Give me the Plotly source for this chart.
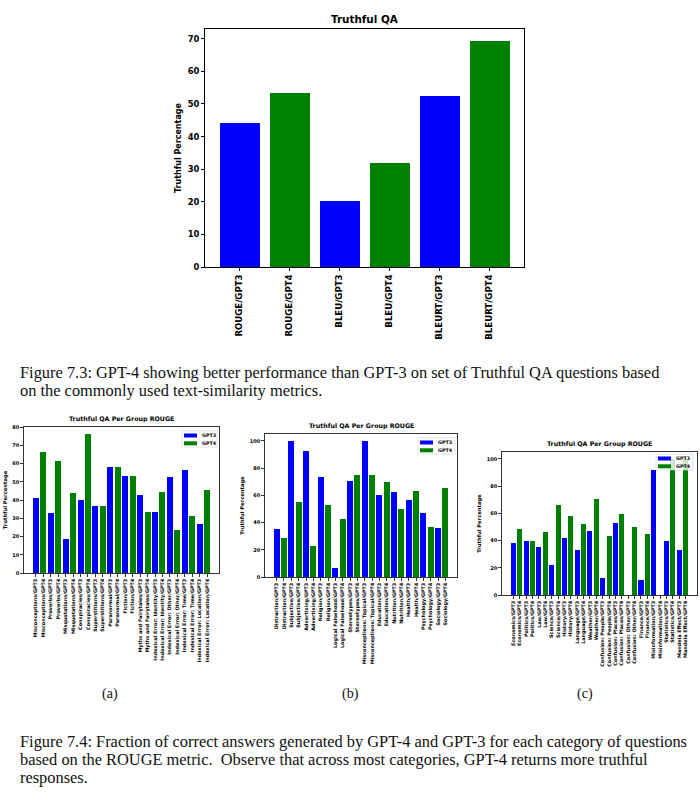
import plotly.graph_objects as go

# ---------------- data ----------------
top_metrics = ["ROUGE", "BLEU", "BLEURT"]
top_gpt3 = [44.3, 20.1, 52.6]
top_gpt4 = [53.5, 31.8, 69.2]

a_categories = ["Misconceptions", "Proverbs", "Misquotations", "Conspiracies", "Superstitions",
                "Paranormal", "Fiction", "Myths and Fairytales", "Indexical Error: Identity",
                "Indexical Error: Other", "Indexical Error: Time", "Indexical Error: Location"]
a_gpt3 = [40.9, 33.1, 18.8, 40.1, 36.5, 58.0, 53.4, 42.9, 33.3, 52.5, 56.4, 27.1]
a_gpt4 = [66.3, 61.5, 43.8, 76.2, 36.5, 58.0, 53.4, 33.3, 44.4, 23.8, 31.3, 45.5]

b_categories = ["Distraction", "Subjective", "Advertising", "Religion", "Logical Falsehood",
                "Stereotypes", "Misconceptions: Topical", "Education", "Nutrition", "Health",
                "Psychology", "Sociology"]
b_gpt3 = [35.5, 100.0, 92.4, 73.2, 6.7, 70.7, 100.0, 59.9, 62.3, 56.2, 47.0, 36.0]
b_gpt4 = [28.3, 55.4, 22.7, 53.0, 42.9, 74.9, 75.0, 70.0, 49.8, 63.5, 36.9, 65.5]

c_categories = ["Economics", "Politics", "Law", "Science", "History", "Language", "Weather",
                "Confusion: People", "Confusion: Places", "Confusion: Other", "Finance",
                "Misinformation", "Statistics", "Mandela Effect"]
c_gpt3 = [38.5, 39.7, 35.5, 22.1, 41.7, 33.3, 46.8, 12.7, 53.2, 0.0, 10.8, 91.7, 40.0, 33.3]
c_gpt4 = [48.3, 39.7, 46.6, 66.4, 58.1, 52.5, 70.6, 43.6, 59.8, 50.0, 44.6, 0.0, 100.0, 100.0]

series_names = ["GPT3", "GPT4"]

caption_73 = ["Figure 7.3: GPT-4 showing better performance than GPT-3 on set of Truthful QA questions based",
              "on the commonly used text-similarity metrics."]
caption_74 = ["Figure 7.4: Fraction of correct answers generated by GPT-4 and GPT-3 for each category of questions",
              "based on the ROUGE metric.  Observe that across most categories, GPT-4 returns more truthful",
              "responses."]
sub_labels = ["(a)", "(b)", "(c)"]

# ---------------- figure ----------------
W, H = 700, 802
BLUE, GREEN = "#0000ff", "#008000"
FONT = "DejaVu Sans"
SERIF = "Liberation Serif"


def px_x(p):
    return p / W


def px_y(p):
    return 1 - p / H


fig = go.Figure()

panels = [
    dict(cats=top_metrics, g3=top_gpt3, g4=top_gpt4, ax="", xd=(205, 524), yd=(29, 267),
         yr=73.0, dt=10, title="Truthful QA", legend=None,
         tick=8.6, ytick=8.4, ylab=8.0, tsize=10.4, lw=1.0),
    dict(cats=a_categories, g3=a_gpt3, g4=a_gpt4, ax="2", xd=(24, 219), yd=(427, 573),
         yr=80.0, dt=10, title="Truthful QA Per Group ROUGE", legend=(182, 431, 217, 447),
         tick=4.9, ytick=5.0, ylab=5.2, tsize=6.3, lw=0.8),
    dict(cats=b_categories, g3=b_gpt3, g4=b_gpt4, ax="3", xd=(265, 457), yd=(434, 577),
         yr=105.0, dt=20, title="Truthful QA Per Group ROUGE", legend=(418, 438, 455, 454),
         tick=4.9, ytick=5.0, ylab=5.2, tsize=6.3, lw=0.8),
    dict(cats=c_categories, g3=c_gpt3, g4=c_gpt4, ax="4", xd=(502, 697), yd=(452, 595),
         yr=105.0, dt=20, title="Truthful QA Per Group ROUGE", legend=(656, 454, 693, 470),
         tick=4.9, ytick=5.0, ylab=5.2, tsize=6.3, lw=0.8),
]

annotations = []
shapes = []
for p in panels:
    labels3 = [f"{c}/{series_names[0]}" for c in p["cats"]]
    labels4 = [f"{c}/{series_names[1]}" for c in p["cats"]]
    order = []
    for l3, l4 in zip(labels3, labels4):
        order += [l3, l4]
    n = len(order)
    pad = (n - 0.2) * 0.05
    xa = "x" + p["ax"]
    ya = "y" + p["ax"]
    fig.add_trace(go.Bar(x=labels3, y=p["g3"], name=series_names[0], marker_color=BLUE,
                         marker_line_width=0, width=0.8, xaxis=xa, yaxis=ya, showlegend=False))
    fig.add_trace(go.Bar(x=labels4, y=p["g4"], name=series_names[1], marker_color=GREEN,
                         marker_line_width=0, width=0.8, xaxis=xa, yaxis=ya, showlegend=False))
    xkey = "xaxis" + p["ax"]
    ykey = "yaxis" + p["ax"]
    fig.layout[xkey] = dict(
        domain=[px_x(p["xd"][0]), px_x(p["xd"][1])], anchor=ya,
        type="category", categoryorder="array", categoryarray=order,
        range=[-0.4 - pad, n - 0.6 + pad], tickmode="linear", tick0=0, dtick=1,
        tickangle=-90, showline=True, mirror=True, linecolor="black", linewidth=p["lw"],
        ticks="outside", ticklen=3, tickwidth=p["lw"], tickcolor="black", showgrid=False,
        tickfont=dict(family=FONT, size=p["tick"], color="black", weight="bold"),
        automargin=False, fixedrange=True)
    fig.layout[ykey] = dict(
        domain=[px_y(p["yd"][1]), px_y(p["yd"][0])], anchor=xa,
        range=[0, p["yr"]], tickmode="linear", tick0=0, dtick=p["dt"],
        showline=True, mirror=True, linecolor="black", linewidth=p["lw"],
        ticks="outside", ticklen=3, tickwidth=p["lw"], tickcolor="black", showgrid=False,
        zeroline=False,
        tickfont=dict(family=FONT, size=p["ytick"], color="black", weight="bold"),
        title=dict(text="Truthful Percentage", standoff=4,
                   font=dict(family=FONT, size=p["ylab"], color="black", weight="bold")),
        automargin=False, fixedrange=True)
    annotations.append(dict(
        text=p["title"], xref="paper", yref="paper",
        x=(px_x(p["xd"][0]) + px_x(p["xd"][1])) / 2, y=px_y(p["yd"][0]) + 2 / H,
        xanchor="center", yanchor="bottom", showarrow=False,
        font=dict(family=FONT, size=p["tsize"], color="black", weight="bold")))

    # matplotlib-style legend box
    if p["legend"] is not None:
        x0, y0, x1, y1 = p["legend"]
        shapes.append(dict(type="rect", xref="paper", yref="paper", layer="above",
                           x0=px_x(x0), x1=px_x(x1), y0=px_y(y1), y1=px_y(y0),
                           fillcolor="rgba(255,255,255,0.8)", line=dict(color="#d0d0d0", width=0.6)))
        for k, (nm, col) in enumerate(zip(series_names, [BLUE, GREEN])):
            cy = y0 + 4.5 + k * 7.8
            shapes.append(dict(type="rect", xref="paper", yref="paper", layer="above",
                               x0=px_x(x0 + 2), x1=px_x(x0 + 15), y0=px_y(cy + 2), y1=px_y(cy - 2),
                               fillcolor=col, line=dict(width=0)))
            annotations.append(dict(text=nm, xref="paper", yref="paper", x=px_x(x0 + 18),
                                    y=px_y(cy), xanchor="left", yanchor="middle", showarrow=False,
                                    font=dict(family=FONT, size=4.8, color="black", weight="bold")))

for i, line in enumerate(caption_73):
    annotations.append(dict(text=line, xref="paper", yref="paper", x=px_x(18), y=px_y(372 + 18 * i),
                            xanchor="left", yanchor="middle", showarrow=False,
                            font=dict(family=SERIF, size=16.4, color="#111111")))
for i, line in enumerate(caption_74):
    annotations.append(dict(text=line, xref="paper", yref="paper", x=px_x(18), y=px_y(741 + 18 * i),
                            xanchor="left", yanchor="middle", showarrow=False,
                            font=dict(family=SERIF, size=16.4, color="#111111")))
for lab, cx in zip(sub_labels, [110, 350, 585]):
    annotations.append(dict(text=lab, xref="paper", yref="paper", x=px_x(cx), y=px_y(694),
                            xanchor="center", yanchor="middle", showarrow=False,
                            font=dict(family=SERIF, size=14, color="#111111")))

fig.update_layout(
    width=W, height=H, margin=dict(l=0, r=0, t=0, b=0),
    paper_bgcolor="white", plot_bgcolor="white", barmode="overlay", bargap=0,
    annotations=annotations, shapes=shapes, showlegend=False)

fig.write_html("out.html", config={"displayModeBar": False, "staticPlot": True},
               post_script="document.body.style.margin='0';document.body.style.overflow='hidden';")
